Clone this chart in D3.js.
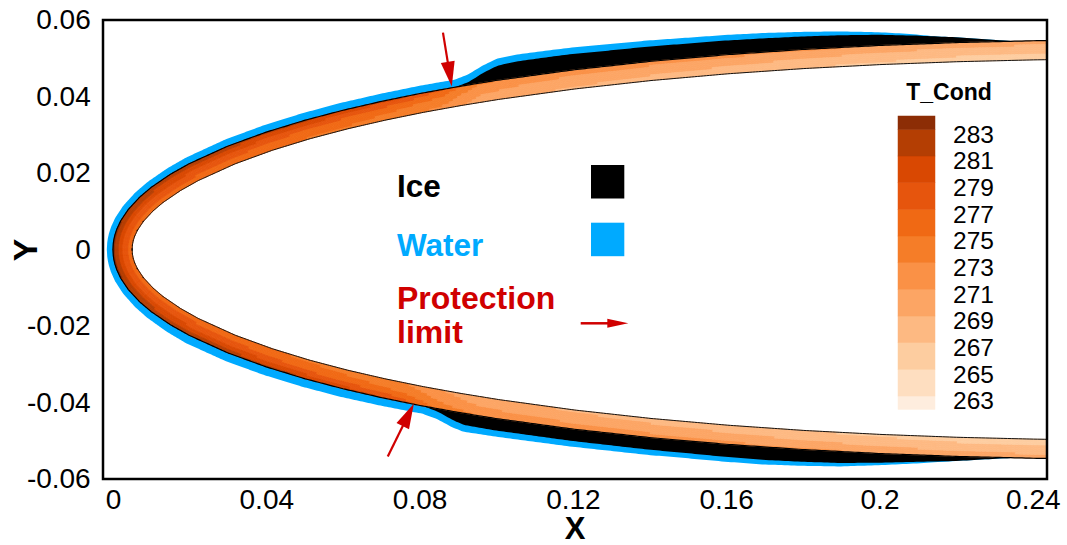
<!DOCTYPE html>
<html>
<head>
<meta charset="utf-8">
<script src="https://cdn.jsdelivr.net/npm/d3@7"></script>
<style>
  body { margin: 0; background: #fff; }
  svg { display: block; font-family: "Liberation Sans", Arial, Helvetica, sans-serif; }
</style>
</head>
<body>
<svg id="chart" width="1067" height="545"></svg>
<script>
// ---- Geometry: outer skin surface half-thickness along the chord (m) ----
const stationX = [0, 0.0001, 0.00025, 0.0005, 0.001, 0.002, 0.004, 0.007, 0.01, 0.015, 0.02, 0.03, 0.04, 0.05, 0.06, 0.07, 0.08, 0.09, 0.10, 0.12, 0.14, 0.16, 0.18, 0.20, 0.22, 0.24, 0.25];
const surfaceY = [0, 0.00170, 0.00268, 0.00377, 0.00531, 0.00747, 0.01047, 0.01371, 0.01626, 0.01968, 0.02249, 0.02704, 0.03069, 0.03376, 0.03640, 0.03871, 0.04076, 0.04257, 0.04420, 0.04695, 0.04916, 0.05092, 0.05230, 0.05334, 0.05409, 0.05457, 0.05473];
const skinThickness = 0.005;

// ---- Ice accretion thickness (m) aft of the protection limits ----
const iceUpperX = [0, 0.0895, 0.093, 0.097, 0.101, 0.106, 0.115, 0.13, 0.15, 0.17, 0.19, 0.20, 0.21, 0.22, 0.23, 0.235, 0.25];
const iceUpper  = [0, 0, 0.0008, 0.0025, 0.0038, 0.0042, 0.0042, 0.0040, 0.0038, 0.0036, 0.0032, 0.0028, 0.0022, 0.0014, 0.0005, 0, 0];
const iceLowerX = [0, 0.081, 0.085, 0.089, 0.092, 0.10, 0.12, 0.15, 0.17, 0.19, 0.21, 0.22, 0.23, 0.235, 0.25];
const iceLower  = [0, 0, 0.0008, 0.0022, 0.0030, 0.0031, 0.0031, 0.0032, 0.0034, 0.0030, 0.0018, 0.0012, 0.0004, 0, 0];

// ---- Runback water film thickness (m) ----
const waterUpperX = [0, 0.02, 0.06, 0.085, 0.10, 0.14, 0.17, 0.19, 0.205, 0.215, 0.25];
const waterUpper  = [0.0016, 0.0018, 0.0020, 0.0020, 0.0018, 0.0016, 0.0014, 0.0010, 0.0005, 0, 0];
const waterLowerX = [0, 0.02, 0.06, 0.08, 0.10, 0.14, 0.17, 0.19, 0.21, 0.22, 0.25];
const waterLower  = [0.0016, 0.0022, 0.0022, 0.0020, 0.0016, 0.0014, 0.0012, 0.0009, 0.0004, 0, 0];

// ---- Wall temperature T_Cond (K): outer face, mid-depth, inner face ----
const tempX = [0, 0.02, 0.04, 0.06, 0.075, 0.085, 0.095, 0.11, 0.14, 0.18, 0.22, 0.25];
const tempUpperOuter = [283.5, 283.0, 282.0, 281.0, 279.5, 277.5, 273.5, 272.5, 272.0, 271.5, 270.5, 270.0];
const tempUpperMid   = [279.0, 278.5, 277.5, 276.5, 275.5, 274.5, 271.5, 270.5, 270.0, 269.0, 268.0, 267.5];
const tempUpperInner = [276.0, 275.5, 275.0, 274.5, 273.5, 272.5, 270.0, 269.0, 268.0, 267.0, 266.0, 265.5];
const tempLowerOuter = [283.5, 283.0, 282.0, 280.5, 278.5, 274.5, 273.0, 272.5, 272.0, 271.5, 270.5, 270.0];
const tempLowerMid   = [279.0, 278.5, 277.5, 276.0, 275.0, 272.5, 271.0, 270.5, 270.0, 269.0, 268.0, 267.5];
const tempLowerInner = [276.0, 275.5, 275.0, 274.0, 273.0, 271.0, 269.5, 269.0, 268.0, 267.0, 266.0, 265.5];

// ---- Contour levels and their fill colours (lowest band first) ----
const tempLevels = [263, 265, 267, 269, 271, 273, 275, 277, 279, 281, 283];
const levelColors = ["#feedde", "#fedec0", "#fdcda0", "#fdb982", "#fca564", "#fa9146", "#f57d28", "#f06914", "#e6550d", "#d94802", "#b43e03", "#8c2d05"];

// ---- Axis ticks ----
const xTicks = [0, 0.04, 0.08, 0.12, 0.16, 0.2, 0.24];
const yTicks = [-0.06, -0.04, -0.02, 0, 0.02, 0.04, 0.06];

// ---- Protection-limit markers: [tailX, tailY, tipX, tipY] ----
const limitArrows = [
  [0.0861, 0.0567, 0.0884, 0.0426],
  [0.0717, -0.0541, 0.0785, -0.0403]
];

// ---- Legend entries ----
const legendItems = ["Ice", "Water"];
const legendFills = ["#000000", "#00aaff"];
const limitLabel = ["Protection", "limit"];

const svg = d3.select("#chart");
const plot = { left: 103, top: 20, right: 1047, bottom: 479 };

const x = d3.scaleLinear().domain([-0.0026, 0.2437]).range([plot.left, plot.right]);
const y = d3.scaleLinear().domain([-0.06, 0.06]).range([plot.bottom, plot.top]);

const surf = d3.scaleLinear().domain(stationX).range(surfaceY).clamp(true);
const iceU = d3.scaleLinear().domain(iceUpperX).range(iceUpper).clamp(true);
const iceL = d3.scaleLinear().domain(iceLowerX).range(iceLower).clamp(true);
const watU = d3.scaleLinear().domain(waterUpperX).range(waterUpper).clamp(true);
const watL = d3.scaleLinear().domain(waterLowerX).range(waterLower).clamp(true);
const tUo = d3.scaleLinear().domain(tempX).range(tempUpperOuter).clamp(true);
const tUm = d3.scaleLinear().domain(tempX).range(tempUpperMid).clamp(true);
const tUi = d3.scaleLinear().domain(tempX).range(tempUpperInner).clamp(true);
const tLo = d3.scaleLinear().domain(tempX).range(tempLowerOuter).clamp(true);
const tLm = d3.scaleLinear().domain(tempX).range(tempLowerMid).clamp(true);
const tLi = d3.scaleLinear().domain(tempX).range(tempLowerInner).clamp(true);
const color = d3.scaleThreshold().domain(tempLevels).range(levelColors);

function wallTemp(upper, X, depth) {
  const o = upper ? tUo(X) : tLo(X);
  const m = upper ? tUm(X) : tLm(X);
  const i = upper ? tUi(X) : tLi(X);
  return depth < 0.5 ? o + (m - o) * depth / 0.5 : m + (i - m) * (depth - 0.5) / 0.5;
}

// Sample the outer surface from the lower trailing side, round the nose, to the upper side
const N = 500, xEnd = 0.25;
const pts = [];
for (let k = N; k >= 1; k--) { const X = xEnd * (k / N) ** 2; pts.push({ X, x: X, y: -surf(X), upper: false }); }
pts.push({ X: 0, x: 0, y: 0, upper: true });
for (let k = 1; k <= N; k++) { const X = xEnd * (k / N) ** 2; pts.push({ X, x: X, y: surf(X), upper: true }); }
pts.forEach((p, i) => {
  const a = pts[Math.max(i - 1, 0)], b = pts[Math.min(i + 1, pts.length - 1)];
  const tx = b.x - a.x, ty = b.y - a.y, len = Math.hypot(tx, ty);
  p.nx = -ty / len; p.ny = tx / len;           // outward normal
  p.ice = p.upper ? iceU(p.X) : iceL(p.X);
  p.water = p.upper ? watU(p.X) : watL(p.X);
});

const off = (p, d) => [x(p.x + p.nx * d), y(p.y + p.ny * d)];

svg.append("defs").append("clipPath").attr("id", "plotClip")
  .append("rect").attr("x", plot.left).attr("y", plot.top)
  .attr("width", plot.right - plot.left).attr("height", plot.bottom - plot.top);

const g = svg.append("g").attr("clip-path", "url(#plotClip)");
const line = d3.line();

// Water film band (drawn first, ice covers its inner part)
const waterPoly = pts.map(p => off(p, p.ice + p.water)).concat(pts.slice().reverse().map(p => off(p, 0)));
g.append("path").attr("d", line(waterPoly) + "Z").attr("fill", legendFills[1]);

// Ice band
const icePoly = pts.map(p => off(p, p.ice)).concat(pts.slice().reverse().map(p => off(p, 0)));
g.append("path").attr("d", line(icePoly) + "Z").attr("fill", legendFills[0]);

// Skin temperature field as banded cells
const K = 10;
const cells = [];
for (let i = 0; i < pts.length - 1; i++) {
  const p = pts[i], q = pts[i + 1];
  const Xm = (p.X + q.X) / 2;
  const up = p.upper && q.upper;
  for (let j = 0; j < K; j++) {
    const d0 = -skinThickness * j / K, d1 = -skinThickness * (j + 1) / K;
    const T = wallTemp(up || (i === pts.length / 2 - 1 ? false : up), Xm, (j + 0.5) / K);
    cells.push({ poly: [off(p, d0), off(q, d0), off(q, d1), off(p, d1)], fill: color(T) });
  }
}
g.append("g").selectAll("path").data(cells).join("path")
  .attr("d", d => line(d.poly) + "Z")
  .attr("fill", d => d.fill).attr("stroke", d => d.fill).attr("stroke-width", 0.7);

// Outer and inner surface lines
g.append("path").attr("d", line(pts.map(p => off(p, 0))))
  .attr("fill", "none").attr("stroke", "#000").attr("stroke-width", 1.2);
g.append("path").attr("d", line(pts.map(p => off(p, -skinThickness))))
  .attr("fill", "none").attr("stroke", "#111").attr("stroke-width", 1);

// Frame
svg.append("rect").attr("x", plot.left).attr("y", plot.top)
  .attr("width", plot.right - plot.left).attr("height", plot.bottom - plot.top)
  .attr("fill", "none").attr("stroke", "#000").attr("stroke-width", 2.5);

// Axes (labels only)
const fmt = v => String(+v.toFixed(2));
const xAxis = svg.append("g").attr("transform", `translate(0,${plot.bottom})`)
  .call(d3.axisBottom(x).tickValues(xTicks).tickSize(0).tickPadding(10.5).tickFormat(fmt));
const yAxis = svg.append("g").attr("transform", `translate(${plot.left},0)`)
  .call(d3.axisLeft(y).tickValues(yTicks).tickSize(0).tickPadding(12.3).tickFormat(fmt));
[xAxis, yAxis].forEach(a => {
  a.select(".domain").remove();
  a.selectAll("text").attr("font-size", 28).attr("font-family", "Liberation Sans, Arial, sans-serif").attr("fill", "#000");
});

svg.append("text").attr("x", 575).attr("y", 539).attr("text-anchor", "middle")
  .attr("font-size", 31).attr("font-weight", "bold").text("X");
svg.append("text").attr("transform", "translate(36.5,250) rotate(-90)").attr("text-anchor", "middle")
  .attr("font-size", 34).attr("font-weight", "bold").text("Y");

// Protection-limit arrows
const red = "#d00000";
function arrow(parent, x0, y0, x1, y1, headLen, headHalf, width) {
  const dx = x1 - x0, dy = y1 - y0, L = Math.hypot(dx, dy), ux = dx / L, uy = dy / L;
  const bx = x1 - ux * headLen, by = y1 - uy * headLen;
  parent.append("line").attr("x1", x0).attr("y1", y0).attr("x2", bx + ux * 2).attr("y2", by + uy * 2)
    .attr("stroke", red).attr("stroke-width", width);
  parent.append("path").attr("d", line([[x1, y1], [bx - uy * headHalf, by + ux * headHalf], [bx + uy * headHalf, by - ux * headHalf]]) + "Z")
    .attr("fill", red);
}
limitArrows.forEach(a => arrow(svg, x(a[0]), y(a[1]), x(a[2]), y(a[3]), 25, 7, 2.2));

// Inline legend for ice / water / protection limit
const leg = svg.append("g");
legendItems.forEach((name, i) => {
  leg.append("text").attr("x", 397).attr("y", 197.3 + i * 58.7)
    .attr("font-size", 31.5).attr("font-weight", "bold").attr("fill", i === 0 ? "#000" : legendFills[1]).text(name);
  leg.append("rect").attr("x", 591).attr("y", 165 + i * 57.7).attr("width", 33.3).attr("height", 33.5)
    .attr("fill", legendFills[i]);
});
limitLabel.forEach((t, i) => {
  leg.append("text").attr("x", 397).attr("y", 309.3 + i * 33.4)
    .attr("font-size", 32).attr("font-weight", "bold").attr("fill", red).text(t);
});
arrow(leg, 580.7, 323.3, 628.3, 323.3, 21, 4.5, 2.5);

// Contour legend
const lg = svg.append("g");
const bandH = 26.67, legTop = 116, legX = 898, legW = 37;
const ly = d3.scaleLinear().domain([283, 263]).range([legTop + bandH / 2, legTop + bandH / 2 + 10 * bandH]);
lg.append("text").attr("x", 949).attr("y", 100).attr("text-anchor", "middle")
  .attr("font-size", 23).attr("font-weight", "bold").text("T_Cond");
levelColors.forEach((c, i) => {
  // i = 0 is the band below the lowest level, last is above the highest
  let yTop, yBot;
  if (i === 0) { yTop = ly(tempLevels[0]); yBot = yTop + bandH / 2; }
  else if (i === levelColors.length - 1) { yBot = ly(tempLevels[tempLevels.length - 1]); yTop = yBot - bandH / 2; }
  else { yTop = ly(tempLevels[i]); yBot = ly(tempLevels[i - 1]); }
  lg.append("rect").attr("x", legX).attr("y", yTop).attr("width", legW).attr("height", yBot - yTop)
    .attr("fill", c).attr("stroke", c).attr("stroke-width", 0.5);
});
tempLevels.forEach(v => {
  lg.append("text").attr("x", 953).attr("y", ly(v) + 13.2)
    .attr("font-size", 24.5).text(v);
});
</script>
</body>
</html>
